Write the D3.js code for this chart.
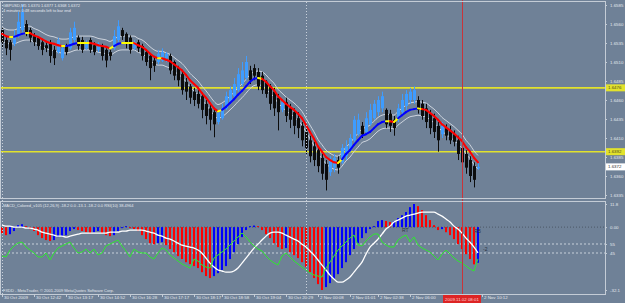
<!DOCTYPE html>
<html>
<head>
<meta charset="utf-8">
<script src="https://cdn.jsdelivr.net/npm/d3@7"></script>
<style>
html,body{margin:0;padding:0;background:#6f8197;}
svg{display:block;font-family:"Liberation Sans",Arial,sans-serif;}
</style>
</head>
<body>
<div id="chart"></div>
<script>
// GBPUSD M5 candles, 120 bars
var open = [1.6552,1.6539,1.6536,1.6534,1.6544,1.6552,1.6560,1.6552,1.6544,1.6542,
1.6536,1.6532,1.6534,1.6526,1.6523,1.6515,1.6531,1.6528,1.6539,1.6542,
1.6539,1.6528,1.6539,1.6532,1.6526,1.6531,1.6526,1.6523,1.6528,1.6539,
1.6552,1.6547,1.6542,1.6528,1.6536,1.6531,1.6523,1.6518,1.6512,1.6510,
1.6512,1.6515,1.6518,1.6510,1.6502,1.6494,1.6484,1.6478,1.6471,1.6468,
1.6465,1.6455,1.6449,1.6444,1.6431,1.6436,1.6449,1.6457,1.6465,1.6473,
1.6481,1.6489,1.6499,1.6502,1.6497,1.6492,1.6484,1.6478,1.6471,1.6463,
1.6447,1.6457,1.6449,1.6444,1.6436,1.6426,1.6418,1.6407,1.6399,1.6394,
1.6384,1.6376,1.6365,1.6371,1.6381,1.6378,1.6386,1.6394,1.6407,1.6415,
1.6426,1.6418,1.6428,1.6436,1.6444,1.6449,1.6447,1.6442,1.6434,1.6436,
1.6444,1.6452,1.6460,1.6460,1.6460,1.6455,1.6449,1.6442,1.6436,1.6426,
1.6415,1.6423,1.6420,1.6415,1.6407,1.6397,1.6389,1.6381,1.6373,1.6370];
var high = [1.6555,1.6544,1.6539,1.6552,1.6576,1.6586,1.6565,1.6555,1.6548,1.6544,
1.6539,1.6536,1.6539,1.6531,1.6542,1.6531,1.6534,1.6555,1.6563,1.6545,
1.6543,1.6539,1.6542,1.6536,1.6536,1.6534,1.6528,1.6526,1.6552,1.6565,
1.6555,1.6549,1.6545,1.6539,1.6539,1.6534,1.6526,1.6521,1.6518,1.6526,
1.6528,1.6523,1.6521,1.6512,1.6505,1.6497,1.6489,1.6481,1.6476,1.6473,
1.6469,1.6460,1.6455,1.6449,1.6447,1.6455,1.6471,1.6478,1.6489,1.6502,
1.6510,1.6518,1.6505,1.6507,1.6502,1.6497,1.6486,1.6481,1.6476,1.6468,
1.6460,1.6463,1.6455,1.6449,1.6444,1.6431,1.6423,1.6413,1.6405,1.6399,
1.6389,1.6381,1.6386,1.6389,1.6386,1.6402,1.6407,1.6415,1.6439,1.6442,
1.6431,1.6444,1.6455,1.6460,1.6465,1.6471,1.6449,1.6447,1.6439,1.6455,
1.6468,1.6473,1.6476,1.6478,1.6465,1.6460,1.6455,1.6447,1.6442,1.6431,
1.6431,1.6428,1.6426,1.6420,1.6413,1.6402,1.6394,1.6386,1.6378,1.6377];
var low = [1.6528,1.6519,1.6512,1.6531,1.6542,1.6549,1.6544,1.6536,1.6531,1.6526,
1.6519,1.6523,1.6509,1.6506,1.6521,1.6512,1.6519,1.6526,1.6534,1.6526,
1.6522,1.6526,1.6522,1.6519,1.6523,1.6512,1.6503,1.6512,1.6526,1.6536,
1.6539,1.6528,1.6521,1.6526,1.6523,1.6512,1.6505,1.6486,1.6497,1.6507,
1.6510,1.6510,1.6494,1.6486,1.6478,1.6467,1.6460,1.6455,1.6452,1.6449,
1.6436,1.6428,1.6420,1.6411,1.6428,1.6434,1.6447,1.6455,1.6463,1.6471,
1.6478,1.6486,1.6481,1.6486,1.6473,1.6468,1.6463,1.6447,1.6439,1.6420,
1.6444,1.6431,1.6423,1.6415,1.6410,1.6399,1.6389,1.6378,1.6373,1.6365,
1.6355,1.6341,1.6360,1.6365,1.6363,1.6376,1.6381,1.6392,1.6405,1.6413,
1.6410,1.6415,1.6426,1.6434,1.6439,1.6444,1.6423,1.6418,1.6413,1.6431,
1.6439,1.6447,1.6455,1.6455,1.6442,1.6434,1.6423,1.6415,1.6410,1.6392,
1.6410,1.6407,1.6402,1.6399,1.6381,1.6368,1.6363,1.6352,1.6345,1.6368];
var close = [1.6536,1.6528,1.6526,1.6544,1.6563,1.6576,1.6549,1.6542,1.6536,1.6531,
1.6526,1.6528,1.6518,1.6515,1.6539,1.6528,1.6523,1.6549,1.6555,1.6531,
1.6526,1.6536,1.6526,1.6523,1.6534,1.6518,1.6512,1.6518,1.6544,1.6557,
1.6544,1.6534,1.6526,1.6536,1.6528,1.6518,1.6510,1.6502,1.6505,1.6521,
1.6523,1.6521,1.6499,1.6492,1.6486,1.6473,1.6471,1.6463,1.6460,1.6455,
1.6447,1.6439,1.6434,1.6428,1.6444,1.6449,1.6465,1.6473,1.6481,1.6494,
1.6499,1.6510,1.6486,1.6492,1.6478,1.6473,1.6468,1.6455,1.6449,1.6444,
1.6457,1.6439,1.6434,1.6426,1.6423,1.6407,1.6397,1.6386,1.6381,1.6373,
1.6363,1.6355,1.6381,1.6384,1.6371,1.6397,1.6399,1.6410,1.6434,1.6434,
1.6415,1.6436,1.6447,1.6455,1.6460,1.6465,1.6428,1.6426,1.6423,1.6449,
1.6460,1.6468,1.6471,1.6473,1.6447,1.6439,1.6431,1.6423,1.6418,1.6407,
1.6426,1.6413,1.6407,1.6405,1.6389,1.6378,1.6371,1.6360,1.6355,1.6372];

// colored moving average (center of the envelope)
var ma = [1.6547,1.6544,1.6543,1.6543,1.6545,1.6547,1.6548,1.6548,1.6545,1.6543,
1.6540,1.6537,1.6535,1.6534,1.6532,1.6531,1.6531,1.6532,1.6534,1.6535,
1.6535,1.6535,1.6535,1.6534,1.6532,1.6531,1.6530,1.6528,1.6531,1.6534,
1.6535,1.6535,1.6535,1.6535,1.6532,1.6530,1.6526,1.6521,1.6517,1.6515,
1.6515,1.6513,1.6511,1.6507,1.6503,1.6499,1.6493,1.6486,1.6481,1.6476,
1.6469,1.6463,1.6456,1.6449,1.6445,1.6447,1.6451,1.6456,1.6461,1.6467,
1.6472,1.6478,1.6484,1.6488,1.6489,1.6488,1.6484,1.6478,1.6473,1.6465,
1.6460,1.6455,1.6451,1.6447,1.6442,1.6436,1.6427,1.6418,1.6409,1.6399,
1.6392,1.6385,1.6381,1.6378,1.6377,1.6382,1.6389,1.6394,1.6401,1.6407,
1.6413,1.6415,1.6418,1.6423,1.6428,1.6431,1.6432,1.6432,1.6431,1.6436,
1.6440,1.6444,1.6447,1.6448,1.6449,1.6448,1.6447,1.6443,1.6439,1.6434,
1.6428,1.6424,1.6420,1.6416,1.6411,1.6406,1.6398,1.6392,1.6384,1.6378];
var envDeviation = 0.055; // percent

// MACD_Colored (12,26,9) and RSI(10)
var macdMain = [-3.1,-4.1,-3.6,-2.0,1.0,1.5,0.5,-1.0,-2.0,-4.1,
-5.6,-6.6,-7.1,-6.6,-5.1,-4.6,-4.1,-2.0,-1.0,-1.5,
-2.0,-2.6,-3.1,-2.6,-2.0,-3.1,-4.1,-4.6,-4.1,-2.0,
-0.5,0.5,-0.5,-1.0,-2.0,-4.1,-6.1,-8.2,-8.7,-8.2,
-7.7,-9.2,-11.2,-12.8,-14.8,-16.3,-17.9,-18.9,-19.9,-20.9,
-23.0,-25.0,-26.0,-25.0,-23.5,-21.9,-19.9,-16.3,-12.8,-8.7,
-5.1,-1.5,0.5,0.8,0.5,-1.5,-3.6,-5.6,-8.2,-10.2,
-11.2,-10.7,-12.8,-14.3,-15.8,-17.9,-20.4,-23.0,-26.0,-29.1,
-32.1,-30.6,-28.6,-26.5,-24.0,-20.9,-17.9,-14.3,-11.2,-8.2,
-5.6,-3.1,-1.0,0.5,3.1,3.6,3.1,2.6,3.1,4.6,
6.1,7.7,10.2,11.8,10.7,8.7,6.1,3.6,1.0,-1.5,
-1.0,-2.6,-4.1,-6.1,-8.7,-11.2,-13.8,-16.3,-19.0,-18.2];
var macdSignal = [1.0,0.5,0.5,0.0,0.0,0.0,-0.5,-0.5,-1.0,-1.5,
-2.6,-3.1,-3.6,-4.1,-4.6,-4.6,-5.1,-4.6,-4.1,-3.6,
-3.1,-3.1,-3.1,-3.1,-3.1,-3.1,-3.1,-2.6,-2.6,-2.6,
-2.0,-2.0,-1.5,-1.5,-1.5,-1.5,-2.0,-2.6,-3.1,-4.1,
-4.6,-5.6,-6.1,-7.1,-8.2,-9.2,-9.7,-10.2,-10.7,-11.7,
-13.3,-15.8,-18.4,-20.4,-21.9,-22.4,-23.0,-23.0,-22.4,-20.9,
-18.4,-15.8,-13.3,-10.7,-8.7,-6.6,-4.6,-3.1,-2.6,-2.6,
-3.1,-4.1,-5.1,-6.1,-7.1,-8.7,-10.2,-12.2,-14.3,-16.8,
-19.4,-21.9,-24.5,-26.5,-28.1,-28.1,-27.0,-25.5,-23.0,-20.4,
-17.9,-13.8,-10.2,-8.2,-6.1,-3.6,-1.0,0.5,2.6,3.6,
4.6,5.6,6.1,6.6,7.1,7.7,7.7,7.7,7.7,6.6,
5.6,4.1,2.6,0.5,-1.0,-3.1,-5.6,-7.7,-10.2,-13.1];
var rsi = [41.7,40.6,48.3,52.8,56.1,57.2,51.7,48.3,45.0,40.6,
40.6,45.0,37.2,45.0,50.6,52.8,55.0,57.2,50.6,45.0,
46.1,49.4,45.0,49.4,42.8,45.0,52.8,55.0,57.2,59.4,
52.8,47.2,40.6,49.4,46.1,45.0,45.0,40.6,38.3,45.0,
50.6,48.3,42.8,39.4,36.1,32.8,30.6,28.3,38.3,36.1,
31.7,29.4,28.3,39.4,42.8,46.1,49.4,53.9,58.3,62.8,
67.2,62.8,57.2,52.8,49.4,47.2,41.7,37.2,33.9,31.7,
41.7,45.0,40.6,36.1,32.8,29.4,26.1,22.8,20.6,19.4,
18.3,28.3,35.0,41.7,48.3,52.8,57.2,61.7,65.0,53.9,
52.8,58.3,62.8,66.1,66.1,57.2,53.9,51.7,51.7,59.4,
62.8,65.0,57.2,62.8,53.9,50.6,48.3,46.1,41.7,37.2,
43.9,48.3,43.9,39.4,36.1,33.9,30.6,27.2,25.0,38.5];

var levelPrices = [1.6476, 1.6392];
var priceTicks = [1.6585,1.6560,1.6535,1.6510,1.6485,1.6460,1.6435,1.6410,1.6385,1.6360,1.6335];
var macdTicks = [11.8, 0, -32.1];
var macdTickLabels = ["11.8", "0.00", "-32.1"];
var rsiLevels = [55, 45];
var timeTickBars = [0,8,16,24,32,40,48,55,63,71,79,87,94,102,120];
var timeTickLabels = ["30 Oct 2009","30 Oct 12:42","30 Oct 13:17","30 Oct 14:52","30 Oct 16:28",
  "30 Oct 17:17","30 Oct 18:17","30 Oct 18:58","30 Oct 19:04","30 Oct 20:29","2 Nov 00:08",
  "2 Nov 01:01","2 Nov 02:38","2 Nov 06:00","2 Nov 10:12"];
var separatorBars = [0, 76];
var cursorBar = 115;
var cursorLabel = "2009.11.02 08:01";

var svgWidth = 625, svgHeight = 303;
var axisX = 605;
var main = {top:2, bottom:198};
var sub = {top:202, bottom:294};
var textColor = "#e4e8ee";
var frameColor = "#c4ccd6";
var fs = 4.4;

var svg = d3.select("#chart").append("svg")
    .attr("width", svgWidth)
    .attr("height", svgHeight);
svg.append("rect").attr("width", svgWidth).attr("height", svgHeight).attr("fill", "#6f8197");

var defs = svg.append("defs");
defs.append("clipPath").attr("id","clipMain").append("rect")
    .attr("x",1).attr("y",main.top).attr("width",axisX-1).attr("height",main.bottom-main.top);
defs.append("clipPath").attr("id","clipSub").append("rect")
    .attr("x",1).attr("y",sub.top).attr("width",axisX-1).attr("height",sub.bottom-sub.top);

var x = d3.scaleLinear().domain([0,119]).range([2,478]);
var yPrice = d3.scaleLinear().domain([1.6335,1.6585]).range([195,5]);
var yMacd = d3.scaleLinear().domain([-32.1,11.8]).range([290,204]);
var yRsi = d3.scaleLinear().domain([0,100]).range([293.5,203.5]);

var idx = d3.range(close.length);
var mainG = svg.append("g").attr("clip-path","url(#clipMain)");
var subG = svg.append("g").attr("clip-path","url(#clipSub)");

// period separators
separatorBars.forEach(function(b){
  svg.append("line").attr("x1",x(b)+0.5).attr("x2",x(b)+0.5).attr("y1",main.top).attr("y2",sub.bottom)
    .attr("stroke","#c8d0da").attr("stroke-dasharray","1,2");
});

// horizontal levels
mainG.selectAll("line.level").data(levelPrices).enter().append("line")
  .attr("class","level")
  .attr("x1",0).attr("x2",axisX)
  .attr("y1",d=>yPrice(d)).attr("y2",d=>yPrice(d))
  .attr("stroke","#e2e22c").attr("stroke-width",1.6);

// envelope bands
var band = d3.line().x((d,i)=>x(i)).y(d=>yPrice(d)).curve(d3.curveMonotoneX);
mainG.append("path").datum(ma.map(v=>v*(1+envDeviation/100)))
  .attr("d",band).attr("fill","none").attr("stroke","#ccd3dd").attr("stroke-width",1);
mainG.append("path").datum(ma.map(v=>v*(1-envDeviation/100)))
  .attr("d",band).attr("fill","none").attr("stroke","#ccd3dd").attr("stroke-width",1);

// candles
var candles = mainG.selectAll("g.candle").data(idx).enter().append("g").attr("class","candle");
candles.append("line")
  .attr("x1",i=>x(i)+0.5).attr("x2",i=>x(i)+0.5)
  .attr("y1",i=>yPrice(high[i])).attr("y2",i=>yPrice(low[i]))
  .attr("stroke",i=>close[i]>=open[i]?"#3e9cff":"#0c0c0c").attr("stroke-width",1);
candles.append("rect")
  .attr("x",i=>x(i)-1)
  .attr("width",3)
  .attr("y",i=>yPrice(Math.max(open[i],close[i])))
  .attr("height",i=>Math.max(1,Math.abs(yPrice(open[i])-yPrice(close[i]))))
  .attr("fill",i=>close[i]>=open[i]?"#3e9cff":"#0c0c0c");

// colored MA segments
function maColor(i){
  var d = Math.round((ma[i]-ma[i-1])*1e4);
  var p = i>1 ? Math.round((ma[i-1]-ma[i-2])*1e4) : d;
  if (d===0 || (p!==0 && Math.sign(p)!==Math.sign(d))) return "#ffff00";
  return d>0 ? "#0000ff" : "#ff0000";
}
mainG.selectAll("line.ma").data(idx.slice(1)).enter().append("line")
  .attr("class","ma")
  .attr("x1",i=>x(i-1)).attr("x2",i=>x(i))
  .attr("y1",i=>yPrice(ma[i-1])).attr("y2",i=>yPrice(ma[i]))
  .attr("stroke",maColor).attr("stroke-width",2).attr("stroke-linecap","round");

// MACD subwindow levels
subG.append("line").attr("x1",0).attr("x2",axisX).attr("y1",yMacd(0)).attr("y2",yMacd(0))
  .attr("stroke","#4c5868").attr("stroke-dasharray","1,2");
subG.selectAll("line.rl").data(rsiLevels).enter().append("line").attr("class","rl")
  .attr("x1",0).attr("x2",axisX).attr("y1",d=>yRsi(d)).attr("y2",d=>yRsi(d))
  .attr("stroke","#c8d0da").attr("stroke-dasharray","2,2");

// histogram
subG.selectAll("rect.h").data(idx).enter().append("rect").attr("class","h")
  .attr("x",i=>x(i)-1).attr("width",2)
  .attr("y",i=>Math.min(yMacd(0),yMacd(macdMain[i])))
  .attr("height",i=>Math.max(1,Math.abs(yMacd(macdMain[i])-yMacd(0))))
  .attr("fill",i=>(i>0 && macdMain[i]>macdMain[i-1])?"#0000ff":"#ff0000");

subG.append("path").datum(macdSignal)
  .attr("d",d3.line().x((d,i)=>x(i)).y(d=>yMacd(d)).curve(d3.curveMonotoneX))
  .attr("fill","none").attr("stroke","#ffffff").attr("stroke-width",1.3);
subG.append("path").datum(rsi)
  .attr("d",d3.line().x((d,i)=>x(i)).y(d=>yRsi(d)))
  .attr("fill","none").attr("stroke","#2ee82e").attr("stroke-width",1);

// cursor
svg.append("line").attr("x1",x(cursorBar)+0.5).attr("x2",x(cursorBar)+0.5).attr("y1",0).attr("y2",sub.bottom)
  .attr("stroke","#c8343a").attr("stroke-width",1);

// frames
svg.append("rect").attr("x",0.5).attr("y",1.5).attr("width",axisX).attr("height",197)
  .attr("fill","none").attr("stroke",frameColor);
svg.append("rect").attr("x",0.5).attr("y",201.5).attr("width",axisX).attr("height",93)
  .attr("fill","none").attr("stroke",frameColor);

function styleAxis(g){
  g.select(".domain").remove();
  g.selectAll("line").attr("stroke",frameColor);
  g.selectAll("text").attr("fill",textColor).attr("font-size",fs+"px").attr("font-family","Liberation Sans, Arial, sans-serif");
}

// price axis
svg.append("g").attr("transform","translate("+axisX+",0)")
  .call(d3.axisRight(yPrice).tickValues(priceTicks).tickSize(2).tickPadding(3).tickFormat(d3.format(".4f")))
  .call(styleAxis);

// level and price tags
function tag(y, text, fill, color){
  svg.append("rect").attr("x",axisX+1).attr("y",y-3.5).attr("width",19).attr("height",7).attr("fill",fill);
  svg.append("text").attr("x",axisX+3).attr("y",y+1.5).attr("font-size",fs+"px").attr("fill",color).text(text);
}
levelPrices.forEach(p=>tag(yPrice(p), d3.format(".4f")(p), "#e2e22c", "#4a4a20"));
tag(yPrice(close[close.length-1]), d3.format(".4f")(close[close.length-1]), "#ffffff", "#303030");

// sub axis
svg.append("g").attr("transform","translate("+axisX+",0)")
  .call(d3.axisRight(yMacd).tickValues(macdTicks).tickSize(2).tickPadding(3).tickFormat((d,i)=>macdTickLabels[i]))
  .call(styleAxis);
svg.append("g").attr("transform","translate("+axisX+",0)")
  .call(d3.axisRight(yRsi).tickValues(rsiLevels).tickSize(2).tickPadding(3).tickFormat(d3.format("d")))
  .call(styleAxis);

// time axis
var tAxis = svg.append("g").attr("transform","translate(0,"+sub.bottom+")")
  .call(d3.axisBottom(x).tickValues(timeTickBars).tickSize(3).tickPadding(1).tickFormat((d,i)=>timeTickLabels[i]))
  .call(styleAxis);
tAxis.selectAll("text").attr("text-anchor","start").attr("dx","1.5").attr("dy","0.3em");

var cx = x(cursorBar);
svg.append("rect").attr("x",cx-19).attr("y",295).attr("width",38).attr("height",8).attr("fill","#dd2424");
svg.append("text").attr("x",cx).attr("y",301).attr("text-anchor","middle").attr("font-size",fs+"px")
  .attr("fill","#ffd6d6").text(cursorLabel);

// texts
var last = close.length-1;
svg.append("text").attr("x",3).attr("y",6.5).attr("font-size","4px").attr("fill",textColor)
  .text("GBPUSD,M5  "+[open[last],high[last],low[last],close[last]].map(d3.format(".4f")).join(" "));
svg.append("text").attr("x",3).attr("y",11.5).attr("font-size","4px").attr("fill",textColor)
  .text("4 minutes 0:48 seconds left to bar end");
svg.append("text").attr("x",3).attr("y",207).attr("font-size","4px").attr("fill",textColor)
  .text("MACD_Colored_v105 (12,26,9) "+macdMain[last].toFixed(1)+" 0.0 "+macdSignal[last].toFixed(1)+" "+macdMain[last].toFixed(1)+" 0.0  RSI(10) 38.4964");
svg.append("text").attr("x",3).attr("y",292).attr("font-size","4px").attr("fill",textColor)
  .text("FXDD - MetaTrader, \u00a9 2001-2009 MetaQuotes Software Corp.");
svg.append("text").attr("x",x(100)).attr("y",231.5).attr("font-size","5px").attr("fill","#2c3440").text("RT");
svg.append("text").attr("x",x(118)).attr("y",232.5).attr("font-size","5px").attr("fill","#2c3440").text("RB");
svg.append("text").attr("x",x(120)+1).attr("y",251).attr("font-size","5px").attr("fill","#2c3440").text("-2");
</script>
</body>
</html>
